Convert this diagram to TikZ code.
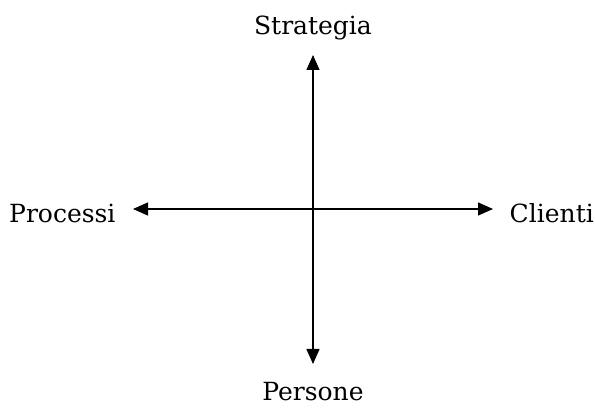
\documentclass[tikz,border=0pt]{standalone}
\usepackage{fontspec}
\setmainfont{DejaVu Serif}
\usetikzlibrary{arrows.meta}
\begin{document}
\begin{tikzpicture}[x=1pt,y=-1pt,
  axis/.style={line width=1.4pt,{Triangle[length=15pt,width=13pt]}-{Triangle[length=15pt,width=13pt]}},
  lbl/.style={font=\fontsize{25}{30}\selectfont,inner sep=0pt}]
\useasboundingbox (0,0) rectangle (595,419);
\node[lbl] (S) at (313,28) {Strategia};
\node[lbl] (P) at (313,392) {Persone};
\node[lbl,anchor=west] (L) at (9,213) {Processi};
\node[lbl,anchor=east] (R) at (594,213) {Clienti};
\coordinate (top) at (313,55);
\coordinate (bot) at (313,364);
\coordinate (left) at (133,209);
\coordinate (right) at (493,209);
\draw[axis] (top) -- (bot);
\draw[axis] (left) -- (right);
\end{tikzpicture}
\end{document}
